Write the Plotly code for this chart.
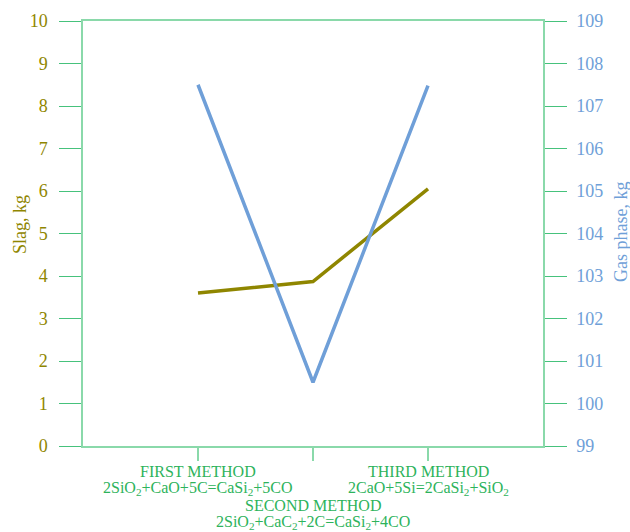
import plotly.graph_objects as go

categories = ["FIRST METHOD", "SECOND METHOD", "THIRD METHOD"]
reactions = ["2SiO<sub>2</sub>+CaO+5C=CaSi<sub>2</sub>+5CO",
             "2SiO<sub>2</sub>+CaC<sub>2</sub>+2C=CaSi<sub>2</sub>+4CO",
             "2CaO+5Si=2CaSi<sub>2</sub>+SiO<sub>2</sub>"]
slag_kg = [3.6, 3.87, 6.05]
gas_phase_kg = [107.5, 100.5, 107.48]
left_ticks = list(range(0, 11))
right_ticks = list(range(99, 110))

FONT = "Liberation Serif"
OLIVE = "#8f8600"
BLUE = "#6f9fd8"
GREEN = "#2db35b"
AXIS = "#8ad9aa"
TICK = "#46c27c"

W, H = 630, 532
L, R, T, B = 83, 87, 21, 86
pw, ph = W - L - R, H - T - B


def px(x):
    return (x - L) / pw


def py(y):
    return (H - B - y) / ph


fig = go.Figure()
fig.add_trace(go.Scatter(x=categories, y=slag_kg, mode="lines",
                         line=dict(color=OLIVE, width=3.5), yaxis="y"))
fig.add_trace(go.Scatter(x=categories, y=gas_phase_kg, mode="lines",
                         line=dict(color=BLUE, width=3.5), yaxis="y2"))

fig.update_layout(
    width=W, height=H,
    margin=dict(l=L, r=R, t=T, b=B),
    paper_bgcolor="white", plot_bgcolor="white",
    showlegend=False,
    font=dict(family=FONT, size=17),
    xaxis=dict(type="category", range=[-1, 3], showgrid=False,
               showline=True, linecolor=AXIS, linewidth=1.5, mirror=True,
               ticks="outside", ticklen=13, tickcolor=AXIS, tickwidth=1.5,
               showticklabels=False, zeroline=False),
    yaxis=dict(range=[0, 10], tickvals=left_ticks, showgrid=False,
               showline=True, linecolor=AXIS, linewidth=1.5,
               ticks="outside", ticklen=22, tickcolor=TICK, tickwidth=1,
               ticklabelstandoff=8,
               tickfont=dict(color=OLIVE, size=18, family=FONT), zeroline=False),
    yaxis2=dict(range=[99, 109], tickvals=right_ticks, overlaying="y", side="right",
                showgrid=False, showline=True, linecolor=AXIS, linewidth=1.5,
                ticks="outside", ticklen=22, tickcolor=TICK, tickwidth=1,
                ticklabelstandoff=6,
                tickfont=dict(color=BLUE, size=18, family=FONT), zeroline=False),
)

annotations = [
    dict(text="Slag, kg", x=px(20), y=py(225), xref="paper", yref="paper", textangle=-90,
         xanchor="center", yanchor="middle", showarrow=False,
         font=dict(color=OLIVE, size=18, family=FONT)),
    dict(text="Gas phase, kg", x=px(621), y=py(232), xref="paper", yref="paper", textangle=-90,
         xanchor="center", yanchor="middle", showarrow=False,
         font=dict(color=BLUE, size=18, family=FONT)),
]

title_rows = [471, 505, 471]
for i, (c, r) in enumerate(zip(categories, reactions)):
    annotations.append(dict(text=c, x=c, xref="x", y=py(title_rows[i]), yref="paper",
                            xanchor="center", yanchor="middle", showarrow=False,
                            font=dict(color=GREEN, size=16, family=FONT)))
    annotations.append(dict(text=r, x=c, xref="x", y=py(title_rows[i] + 17), yref="paper",
                            xanchor="center", yanchor="middle", showarrow=False,
                            font=dict(color=GREEN, size=16, family=FONT)))
fig.update_layout(annotations=annotations)

fig.write_html("out.html", config={"displayModeBar": False},
               post_script="document.body.style.margin='0';")
